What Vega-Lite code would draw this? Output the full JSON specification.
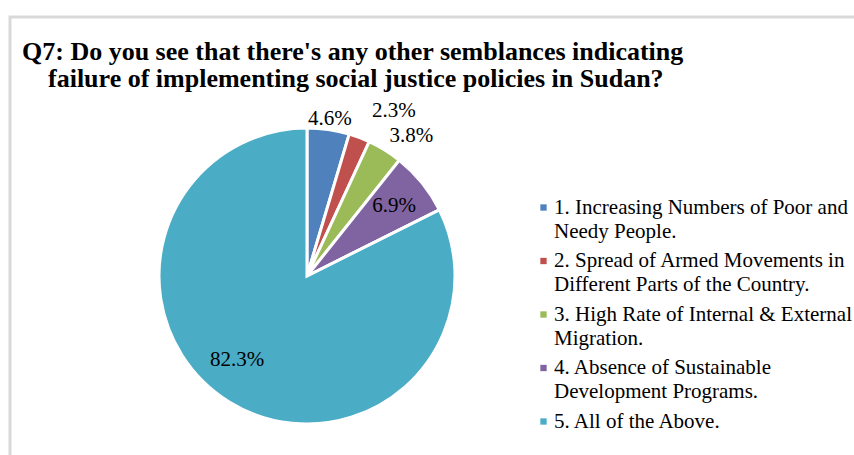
{
  "$schema": "https://vega.github.io/schema/vega-lite/v6.json",
  "width": 847,
  "height": 441,
  "autosize": {"type": "none"},
  "padding": {"left": 10, "top": 17, "right": -3, "bottom": -3},
  "background": "white",
  "config": {"view": {"stroke": "#d9d9d9", "strokeWidth": 3}},
  "title": {
    "text": ["Q7: Do you see  that there's any other semblances indicating", "\u200b\u00a0\u00a0\u00a0\u00a0failure of implementing  social justice policies in Sudan?"],
    "anchor": "start",
    "frame": "group",
    "orient": "top",
    "font": "Liberation Serif",
    "fontSize": 26,
    "fontWeight": "bold",
    "color": "#000000",
    "lineHeight": 27,
    "baseline": "alphabetic",
    "dx": 12,
    "dy": 100
  },
  "data": {
    "values": [
      {"answer": "1. Increasing Numbers of Poor and\nNeedy People.", "share": 0.046},
      {"answer": "2. Spread of Armed Movements in\nDifferent Parts of the Country.", "share": 0.023},
      {"answer": "3. High Rate of Internal & External\nMigration.", "share": 0.038},
      {"answer": "4. Absence of Sustainable\nDevelopment Programs.", "share": 0.069},
      {"answer": "5. All of the Above.", "share": 0.823}
    ]
  },
  "encoding": {
    "theta": {"field": "share", "type": "quantitative", "stack": true},
    "order": {"field": "answer", "type": "nominal"},
    "x": {"value": 297},
    "y": {"value": 259}
  },
  "layer": [
    {
      "mark": {"type": "arc", "outerRadius": 148, "stroke": "white", "strokeWidth": 3},
      "encoding": {
        "color": {
          "field": "answer",
          "type": "nominal",
          "scale": {"range": ["#4F81BD", "#C0504D", "#9BBB59", "#8064A2", "#4BACC6"]},
          "legend": {
            "orient": "none",
            "legendX": 523,
            "legendY": 180,
            "title": null,
            "padding": 0,
            "symbolType": "square",
            "symbolSize": 40,
            "symbolStrokeWidth": 0,
            "labelFont": "Liberation Serif",
            "labelFontSize": 21,
            "labelColor": "#000000",
            "labelBaseline": "alphabetic",
            "labelOffset": 0,
            "labelLimit": 600,
            "rowPadding": 7.5,
            "labelExpr": "split(datum.label, '\\n')",
            "encoding": {"labels": {"lineHeight": {"value": 24}, "dy": {"value": 6}}}
          }
        }
      }
    },
    {
      "mark": {"type": "text", "radius": 159, "font": "Liberation Serif", "fontSize": 21, "color": "#000000"},
      "encoding": {
        "detail": {"field": "answer", "type": "nominal"},
        "text": {"condition": {"test": "datum.share > 0.04 && datum.share < 0.05", "field": "share", "type": "quantitative", "format": ".1%"}, "value": ""}
      }
    },
    {
      "mark": {"type": "text", "radius": 186, "dx": 21, "dy": 9, "font": "Liberation Serif", "fontSize": 21, "color": "#000000"},
      "encoding": {
        "detail": {"field": "answer", "type": "nominal"},
        "text": {"condition": {"test": "datum.share < 0.03", "field": "share", "type": "quantitative", "format": ".1%"}, "value": ""}
      }
    },
    {
      "mark": {"type": "text", "radius": 174, "dx": 13, "dy": 8, "font": "Liberation Serif", "fontSize": 21, "color": "#000000"},
      "encoding": {
        "detail": {"field": "answer", "type": "nominal"},
        "text": {"condition": {"test": "datum.share > 0.03 && datum.share < 0.04", "field": "share", "type": "quantitative", "format": ".1%"}, "value": ""}
      }
    },
    {
      "mark": {"type": "text", "radius": 112, "font": "Liberation Serif", "fontSize": 21, "color": "#000000"},
      "encoding": {
        "detail": {"field": "answer", "type": "nominal"},
        "text": {"condition": {"test": "datum.share >= 0.05 && datum.share < 0.5", "field": "share", "type": "quantitative", "format": ".1%"}, "value": ""}
      }
    },
    {
      "mark": {"type": "text", "radius": 110, "dx": -12, "dy": -10, "font": "Liberation Serif", "fontSize": 21, "color": "#000000"},
      "encoding": {
        "detail": {"field": "answer", "type": "nominal"},
        "text": {"condition": {"test": "datum.share >= 0.5", "field": "share", "type": "quantitative", "format": ".1%"}, "value": ""}
      }
    }
  ]
}
